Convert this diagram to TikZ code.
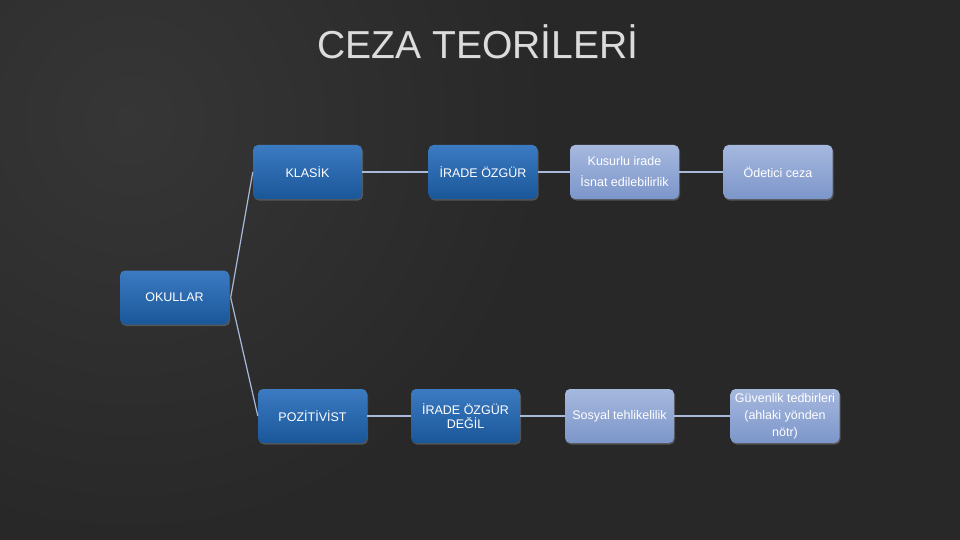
\documentclass[tikz,border=0pt]{standalone}
\usepackage{fontspec}
\setmainfont{Liberation Sans}
\usetikzlibrary{shadows}
\definecolor{bgc}{HTML}{282828}
\definecolor{bgl}{HTML}{363636}
\definecolor{dtop}{HTML}{3C7AC2}
\definecolor{dbot}{HTML}{1A5799}
\definecolor{ltop}{HTML}{A6B8DE}
\definecolor{lbot}{HTML}{7C96CA}
\definecolor{linec}{HTML}{A9B9DA}
\definecolor{titlec}{HTML}{DCDCDC}
\tikzset{
  box/.style={rounded corners=5pt, minimum width=109pt, minimum height=54pt,
    inner sep=1pt, text=white, align=center, font=\fontsize{12.5}{15}\selectfont,
    drop shadow={shadow xshift=1pt, shadow yshift=-1.5pt, opacity=0.5}},
  darkbox/.style={box, top color=dtop, bottom color=dbot},
  lightbox/.style={box, top color=ltop, bottom color=lbot},
  conn/.style={draw=linec, line width=1.2pt}
}
\begin{document}
\begin{tikzpicture}[x=1pt,y=-1pt]
\useasboundingbox (0,0) rectangle (960,540);
\begin{scope}
\clip (0,0) rectangle (960,540);
\fill[bgc] (0,0) rectangle (960,540);
\shade[inner color=bgl, outer color=bgc] (130,120) circle [radius=420pt];
\end{scope}
% title
\node[text=black!80, font=\fontsize{39}{44}\selectfont] at (479,43) {CEZA TEORİLERİ};
\node (title) [text=titlec, font=\fontsize{39}{44}\selectfont] at (478,42) {CEZA TEORİLERİ};
% nodes
\node (okul) [darkbox] at (174.5,297.5) {OKULLAR};
\node (klas) [darkbox] at (307.5,172) {KLASİK};
\node (irade) [darkbox] at (483,172) {İRADE ÖZGÜR};
\node (kus) [lightbox, font=\fontsize{12.5}{21}\selectfont] at (624.5,172) {Kusurlu irade\\İsnat edilebilirlik};
\node (ode) [lightbox] at (778,172) {Ödetici ceza};
\node (poz) [darkbox] at (312.5,416) {POZİTİVİST};
\node (iradeg) [darkbox, font=\fontsize{12.5}{14}\selectfont] at (465.5,416) {İRADE ÖZGÜR\\DEĞİL};
\node (sos) [lightbox] at (619.5,416) {Sosyal tehlikelilik};
\node (guv) [lightbox, font=\fontsize{12.5}{17}\selectfont] at (785,416) {Güvenlik tedbirleri\\(ahlaki yönden\\nötr)};
% connectors
\coordinate (okr) at ([xshift=1.5pt]okul.east);
\draw[conn] (okr) -- (klas.west);
\draw[conn] (okr) -- (poz.west);
\draw[conn] (klas) -- (irade);
\draw[conn] (irade) -- (kus);
\draw[conn] (kus) -- (ode);
\draw[conn] (poz) -- (iradeg);
\draw[conn] (iradeg) -- (sos);
\draw[conn] (sos) -- (guv);
\end{tikzpicture}
\end{document}
